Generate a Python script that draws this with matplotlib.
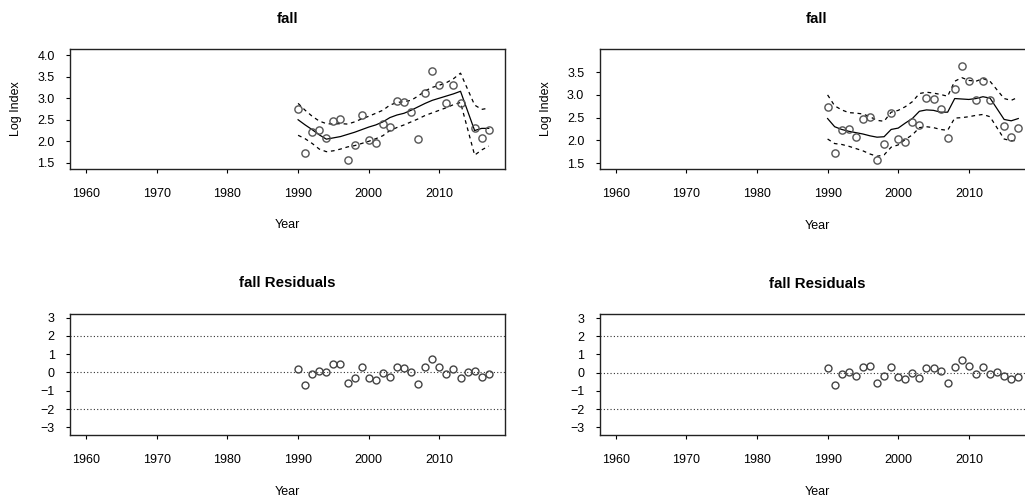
import numpy as np
import matplotlib
matplotlib.use("Agg")
import matplotlib.pyplot as plt

plt.rcParams['font.family'] = ['Liberation Sans', 'DejaVu Sans']

nan = np.nan

# survey years, 2014 has no index value
years = np.arange(1990, 2018)
log_index = [2.74, 1.72, 2.22, 2.26, 2.07, 2.47, 2.52, 1.57, 1.91, 2.60,
             2.04, 1.97, 2.41, 2.33, 2.93, 2.90, 2.69, 2.05, 3.13, 3.64,
             3.30, 2.89, 3.30, 2.88, nan, 2.32, 2.07, 2.27]

# left model fit + bounds
fit_a = [2.50, 2.38, 2.27, 2.15, 2.05, 2.08, 2.11, 2.16, 2.21, 2.27,
         2.33, 2.38, 2.45, 2.55, 2.61, 2.65, 2.72, 2.80, 2.88, 2.95,
         3.00, 3.05, 3.10, 3.16, nan, 2.25, 2.30, 2.30]
hi_a = [2.88, 2.72, 2.58, 2.47, 2.41, 2.40, 2.41, 2.40, 2.45, 2.52,
        2.58, 2.65, 2.72, 2.84, 2.90, 2.92, 2.95, 3.05, 3.17, 3.25,
        3.30, 3.36, 3.45, 3.58, nan, 2.84, 2.74, 2.77]
lo_a = [2.14, 2.06, 1.95, 1.82, 1.76, 1.78, 1.82, 1.87, 1.90, 1.95,
        2.00, 2.06, 2.13, 2.25, 2.32, 2.38, 2.45, 2.52, 2.60, 2.66,
        2.72, 2.78, 2.85, 2.90, nan, 1.68, 1.80, 1.89]

# right model fit + bounds
fit_b = [2.48, 2.30, 2.24, 2.20, 2.17, 2.14, 2.10, 2.07, 2.08, 2.24,
         2.27, 2.38, 2.48, 2.64, 2.67, 2.66, 2.62, 2.62, 2.92, 2.91,
         2.90, 2.92, 2.96, 2.93, nan, 2.46, 2.43, 2.48]
hi_b = [3.00, 2.76, 2.67, 2.61, 2.60, 2.58, 2.52, 2.44, 2.42, 2.62,
        2.66, 2.74, 2.85, 3.03, 3.06, 3.04, 3.01, 2.97, 3.30, 3.38,
        3.32, 3.30, 3.36, 3.30, nan, 2.92, 2.88, 2.95]
lo_b = [2.03, 1.93, 1.91, 1.87, 1.82, 1.77, 1.70, 1.65, 1.68, 1.85,
        1.90, 2.02, 2.12, 2.28, 2.30, 2.28, 2.24, 2.22, 2.49, 2.50,
        2.52, 2.55, 2.57, 2.52, nan, 2.03, 1.99, 2.00]

resid_a = [0.18, -0.71, -0.11, 0.07, 0.00, 0.44, 0.44, -0.58, -0.29, 0.31,
           -0.29, -0.42, -0.04, -0.24, 0.31, 0.25, 0.00, -0.64, 0.31, 0.73,
           0.31, -0.11, 0.18, -0.29, 0.00, 0.07, -0.24, -0.11]
resid_b = [0.24, -0.65, -0.09, 0.02, -0.17, 0.30, 0.37, -0.54, -0.17, 0.31,
           -0.24, -0.35, -0.04, -0.30, 0.24, 0.24, 0.07, -0.54, 0.30, 0.67,
           0.37, -0.06, 0.30, -0.06, 0.02, -0.17, -0.35, -0.22]

xticks = [1960, 1970, 1980, 1990, 2000, 2010]
xlim = (1957.7, 2019.3)

W, H = 1025, 499
fig = plt.figure(figsize=(W / 100, H / 100), dpi=100)


def box(px_left, px_top, px_w, px_h):
    return [px_left / W, 1 - (px_top + px_h) / H, px_w / W, px_h / H]


def style(ax, title):
    ax.set_xlim(*xlim)
    ax.set_xticks(xticks)
    ax.set_title(title, fontsize=10.8, fontweight='bold', pad=19)
    ax.set_xlabel("Year", fontsize=9, labelpad=14)
    ax.tick_params(axis='x', length=3, width=0.8, labelsize=9, pad=11)
    ax.tick_params(axis='y', length=3, width=0.8, labelsize=9, pad=8)
    for s in ax.spines.values():
        s.set_linewidth(1.0)
        s.set_color('#222222')


def index_panel(ax, fit, hi, lo, yticks, ylim):
    obs = np.array(log_index)
    ok = ~np.isnan(obs)
    ax.plot(years[ok], np.array(fit)[ok], color='black', lw=0.9)
    ax.plot(years[ok], np.array(hi)[ok], color='black', lw=0.9, ls=(0, (3, 3)))
    ax.plot(years[ok], np.array(lo)[ok], color='black', lw=0.9, ls=(0, (3, 3)))
    ax.plot(years[ok], obs[ok], 'o', mfc='none', mec='#555555', ms=5.2, mew=1.0)
    ax.set_ylim(*ylim)
    ax.set_yticks(yticks)
    ax.set_yticklabels([f"{v:.1f}" for v in yticks])
    ax.set_ylabel("Log Index", fontsize=9, labelpad=11)
    style(ax, "fall")


def resid_panel(ax, resid):
    for h in (2, 0, -2):
        ax.axhline(h, color='#333333', lw=0.8, ls=(0, (1, 2)))
    ax.plot(years, resid, 'o', mfc='none', mec='#444444', ms=5.0, mew=1.0)
    ax.set_ylim(-3.42, 3.22)
    ax.set_yticks([3, 2, 1, 0, -1, -2, -3])
    ax.set_yticklabels(["3", "2", "1", "0", "\u22121", "\u22122", "\u22123"])
    style(ax, "fall Residuals")


ax1 = fig.add_axes(box(70, 49, 435, 119.5))
index_panel(ax1, fit_a, hi_a, lo_a, [1.5, 2.0, 2.5, 3.0, 3.5, 4.0], (1.37, 4.14))

ax2 = fig.add_axes(box(599.5, 49, 435, 120))
index_panel(ax2, fit_b, hi_b, lo_b, [1.5, 2.0, 2.5, 3.0, 3.5], (1.37, 4.01))

ax3 = fig.add_axes(box(70, 313.5, 435, 121.5))
resid_panel(ax3, resid_a)

ax4 = fig.add_axes(box(599.5, 314, 435, 121))
resid_panel(ax4, resid_b)

fig.savefig("out.png", dpi=100)
